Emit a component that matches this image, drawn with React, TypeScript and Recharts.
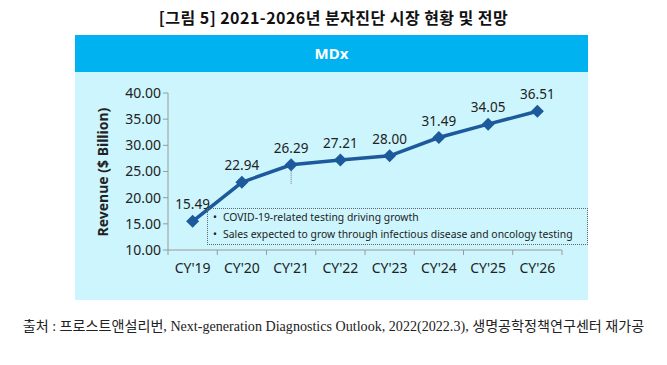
import { LineChart, Line, XAxis, YAxis, LabelList, ReferenceLine } from "recharts";

const years = ["CY'19", "CY'20", "CY'21", "CY'22", "CY'23", "CY'24", "CY'25", "CY'26"];
const revenue = [15.49, 22.94, 26.29, 27.21, 28.0, 31.49, 34.05, 36.51];
const yTicks = [10, 15, 20, 25, 30, 35, 40];
const notes = [
  "COVID-19-related testing driving growth",
  "Sales expected to grow through infectious disease and oncology testing",
];

const data = years.map((year, i) => ({ year, revenue: revenue[i] }));

const LINE = "#1d5a9c";
const FONT = "'Noto Sans', sans-serif";

function Diamond(props: any) {
  const { cx, cy } = props;
  if (cx == null || cy == null) return null;
  const r = 6.5;
  return (
    <polygon
      points={`${cx},${cy - r} ${cx + r},${cy} ${cx},${cy + r} ${cx - r},${cy}`}
      fill={LINE}
    />
  );
}

// category ticks sit on band boundaries, labels in the middle
function XTick(props: any) {
  const { x, y, payload, index } = props;
  const bw = 394 / years.length;
  return (
    <g>
      <line x1={x - bw / 2} y1={y - 8} x2={x - bw / 2} y2={y - 3} stroke="#9a9a9a" />
      {index === years.length - 1 && (
        <line x1={x + bw / 2} y1={y - 8} x2={x + bw / 2} y2={y - 3} stroke="#9a9a9a" />
      )}
      <text x={x} y={y + 15} textAnchor="middle" fill="#222" fontSize={14} fontFamily={FONT}>
        {payload.value}
      </text>
    </g>
  );
}

export default function App() {
  return (
    <div
      style={{
        position: "absolute",
        left: 0,
        top: 0,
        width: 667,
        height: 365,
        background: "#fff",
        fontFamily: FONT,
      }}
    >
      <div
        style={{
          position: "absolute",
          top: 5,
          width: 667,
          textAlign: "center",
          fontFamily: "'Noto Sans CJK KR', sans-serif",
          fontWeight: 700,
          fontSize: 16,
          letterSpacing: 0.45,
          color: "#111",
        }}
      >
        [그림 5] 2021-2026년 분자진단 시장 현황 및 전망
      </div>

      <div
        style={{
          position: "absolute",
          left: 75,
          top: 35,
          width: 513,
          height: 265,
          background: "#cdf5fd",
        }}
      />
      <div
        style={{
          position: "absolute",
          left: 75,
          top: 35,
          width: 513,
          height: 37,
          background: "#00b3f0",
          color: "#fff",
          fontWeight: 700,
          fontSize: 15,
          lineHeight: "37px",
          textAlign: "center",
        }}
      >
        MDx
      </div>

      <div style={{ position: "absolute", left: 0, top: 0 }}>
        <LineChart
          width={667}
          height={365}
          data={data}
          margin={{ top: 93, right: 105, bottom: 85, left: 108 }}
        >
          <XAxis
            dataKey="year"
            scale="band"
            stroke="#9a9a9a"
            tickLine={false}
            height={30}
            tick={<XTick />}
            interval={0}
          />
          <YAxis
            domain={[10, 40]}
            ticks={yTicks}
            width={60}
            stroke="#9a9a9a"
            tickSize={5}
            tickFormatter={(v: number) => v.toFixed(2)}
            tick={{ fill: "#222", fontSize: 14, fontFamily: FONT }}
            label={{
              value: "Revenue ($ Billion)",
              angle: -90,
              position: "insideLeft",
              dx: -10,
              dy: 65,
              style: { fill: "#222", fontSize: 14, fontWeight: 700, fontFamily: FONT },
            }}
          />
          <ReferenceLine
            segment={[
              { x: "CY'21", y: 26.29 },
              { x: "CY'21", y: 22.6 },
            ]}
            stroke="#777"
            strokeDasharray="1 1"
          />
          <Line
            dataKey="revenue"
            stroke={LINE}
            strokeWidth={3.5}
            dot={<Diamond />}
            activeDot={false}
            isAnimationActive={false}
          >
            <LabelList
              dataKey="revenue"
              position="top"
              offset={12}
              formatter={(v: number) => v.toFixed(2)}
              style={{ fill: "#222", fontSize: 13.5, fontFamily: FONT }}
            />
          </Line>
        </LineChart>
      </div>

      <div
        style={{
          position: "absolute",
          left: 207,
          top: 208,
          width: 381,
          height: 37,
          border: "1px dotted #666",
          fontSize: 10.4,
          color: "#222",
          lineHeight: "17px",
          paddingLeft: 5,
          boxSizing: "border-box",
          whiteSpace: "nowrap",
        }}
      >
        {notes.map((n) => (
          <div key={n}>
            <span style={{ marginRight: 6 }}>•</span>
            {n}
          </div>
        ))}
      </div>

      <div
        style={{
          position: "absolute",
          top: 315,
          width: 667,
          textAlign: "center",
          fontSize: 14.1,
          color: "#222",
          fontFamily: "'Liberation Serif', 'Noto Sans CJK KR', serif",
        }}
      >
        출처 : 프로스트앤설리번, Next-generation Diagnostics Outlook, 2022(2022.3), 생명공학정책연구센터 재가공
      </div>
    </div>
  );
}
